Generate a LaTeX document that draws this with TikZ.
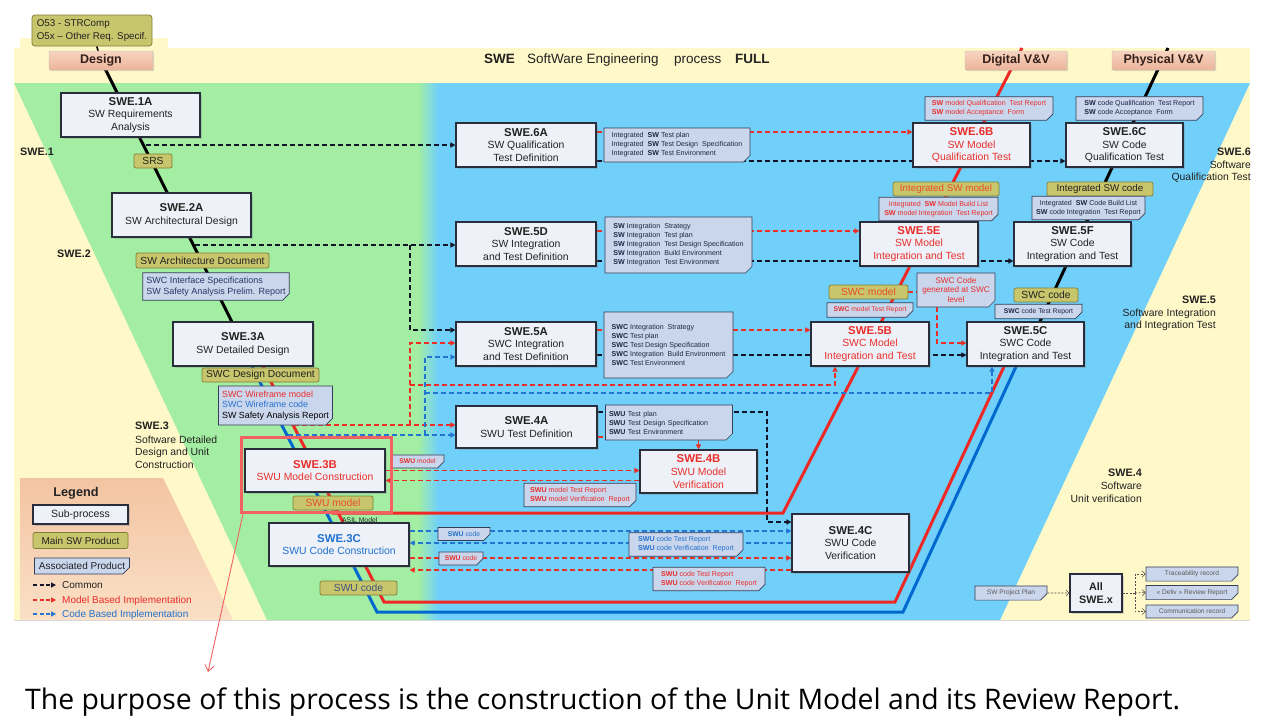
\documentclass[tikz,border=0pt]{standalone}
\usepackage{fontspec}
\setmainfont{Liberation Sans}
\newfontfamily\capfont{Open Sans}
\usepackage{graphicx}
\usetikzlibrary{arrows.meta,shapes.misc,shadows,calc}
\pgfdeclarelayer{regions}
\pgfdeclarelayer{links}
\pgfsetlayers{regions,links,main}
\definecolor{cyell}{RGB}{255,248,200}
\definecolor{cgreen}{RGB}{163,238,163}
\definecolor{cblue}{RGB}{112,208,250}
\definecolor{cpeachA}{RGB}{243,196,162}
\definecolor{cpeachB}{RGB}{250,224,198}
\definecolor{cbox}{RGB}{238,242,248}
\definecolor{cboxedge}{RGB}{40,46,60}
\definecolor{colive}{RGB}{200,198,108}
\definecolor{coliveedge}{RGB}{128,126,52}
\definecolor{cnote}{RGB}{202,214,236}
\definecolor{cnoteedge}{RGB}{52,62,88}
\definecolor{cnotetext}{RGB}{30,38,66}
\definecolor{cred}{RGB}{232,46,42}
\definecolor{corange}{RGB}{232,78,40}
\definecolor{cblu}{RGB}{32,112,205}
\definecolor{cdash}{RGB}{18,22,40}
\definecolor{crdash}{RGB}{236,46,36}
\definecolor{cbdash}{RGB}{36,116,210}
\definecolor{cvred}{RGB}{238,40,36}
\definecolor{cvblue}{RGB}{0,104,206}
\definecolor{chl}{RGB}{242,98,98}
\definecolor{cgateA}{RGB}{247,212,192}
\definecolor{cgateB}{RGB}{236,180,154}
\definecolor{cgatetext}{RGB}{52,30,26}
\definecolor{cslate}{RGB}{62,82,122}
\definecolor{cdark}{RGB}{34,34,34}
\definecolor{cprel}{RGB}{40,55,100}
\newcommand\fsz[2]{\fontsize{#1}{#2}\selectfont}
\newcommand\B[1]{\textbf{#1}}
\newcommand\ttl[1]{{\fontsize{11.4}{12.6}\selectfont\bfseries #1}}
\tikzset{
 proc/.style={draw=cboxedge, line width=1.1pt, fill=cbox, align=center, inner sep=1pt, font=\fsz{10.4}{12.6}, text=cdark, drop shadow={shadow xshift=1.8pt, shadow yshift=-1.8pt, opacity=0.3}},
 prod/.style={draw=coliveedge, line width=0.7pt, fill=colive, rounded corners=2pt, inner sep=0pt, font=\fsz{10.3}{12}, text=cdark},
 doc/.style={chamfered rectangle, chamfered rectangle corners=south east, chamfered rectangle xsep=3pt, draw=cnoteedge, line width=0.7pt, fill=cnote, inner xsep=0.5pt, inner ysep=0.5pt, align=left, font=\fsz{7.1}{9}, text=cnotetext},
 gate/.style={draw=black!25, line width=0.4pt, top color=cgateA, bottom color=cgateB, rounded corners=1pt, inner sep=0pt, font=\bfseries\fsz{12.5}{14}, text=cgatetext, drop shadow={shadow xshift=1.2pt, shadow yshift=-1.2pt, opacity=0.25}},
 lbl/.style={inner sep=0pt, font=\fsz{10.4}{12}, text=cdark},
 kdash/.style={draw=cdash, line width=1.8pt, dash pattern=on 5pt off 3pt},
 rdash/.style={draw=crdash, line width=1.8pt, dash pattern=on 5pt off 3pt},
 bdash/.style={draw=cbdash, line width=1.8pt, dash pattern=on 5pt off 3pt},
 spine/.style={line width=3pt},
 tdash/.style={draw=black!70, line width=0.6pt, dash pattern=on 2pt off 1.5pt},
 barb/.style={-{Straight Barb[length=3pt,width=6pt]}},
}
\begin{document}
\begin{tikzpicture}[x=1pt,y=-1pt,>={Triangle[length=5pt,width=5pt]}]
\useasboundingbox (0,0) rectangle (1268,723);
\begin{pgfonlayer}{regions}
\fill[white] (0,0) rectangle (1268,723);
\fill[cyell] (20,38) rectangle (168,48);
\fill[cyell] (14,48) rectangle (1250,620);
\fill[cgreen] (14,83) -- (431,83) -- (431,620) -- (267,620) -- cycle;
\fill[cblue] (429,83) -- (1250,83) -- (1000,620) -- (429,620) -- cycle;
\shade[left color=cgreen, right color=cblue] (418,83) rectangle (438,620);
\shade[top color=cpeachA, bottom color=cpeachB] (20,478) -- (163,478) -- (233,620) -- (20,620) -- cycle;
\draw[black!15, line width=1pt] (14,620.5) -- (1250,620.5);
\end{pgfonlayer}

% top
\node[prod, minimum width=120, minimum height=31, rounded corners=3pt, align=left, font=\fsz{9.8}{12.5}] (o53) at (92,30.5) {O53 - STRComp\\O5x – Other Req. Specif.};
\node[gate, minimum width=104, minimum height=19] (design) at (101,60.5) {Design};
\node[gate, minimum width=102, minimum height=19] (digital) at (1016,60.5) {Digital V\&V};
\node[gate, minimum width=103, minimum height=19] (physical) at (1163.5,60.5) {Physical V\&V};
\node[lbl, anchor=base west, font=\bfseries\fsz{13.5}{15}] (t1) at (484,63) {SWE};
\node[lbl, anchor=base west, font=\fsz{13.5}{15}] (t2) at (527,63) {SoftWare Engineering};
\node[lbl, anchor=base west, font=\fsz{13.5}{15}] (t3) at (674,63) {process};
\node[lbl, anchor=base west, font=\bfseries\fsz{13.5}{15}] (t4) at (735,63) {FULL};

% processes
\node[proc, minimum width=139, minimum height=44] (s1a) at (130.5,115) {\ttl{SWE.1A}\\SW Requirements\\Analysis};
\node[proc, minimum width=139, minimum height=44] (s2a) at (181.5,215) {\ttl{SWE.2A}\\SW Architectural Design};
\node[proc, minimum width=140, minimum height=44] (s3a) at (243,344) {\ttl{SWE.3A}\\SW Detailed Design};
\node[proc, minimum width=140, minimum height=43, text=cred] (s3b) at (315,470.5) {\ttl{SWE.3B}\\SWU Model Construction};
\node[proc, minimum width=140, minimum height=43, text=cblu] (s3c) at (339,544.5) {\ttl{SWE.3C}\\SWU Code Construction};
\node[proc, minimum width=140, minimum height=44] (s6a) at (526,145) {\ttl{SWE.6A}\\SW Qualification\\Test Definition};
\node[proc, minimum width=140, minimum height=44] (s5d) at (526,244) {\ttl{SWE.5D}\\SW Integration\\and Test Definition};
\node[proc, minimum width=140, minimum height=44] (s5a) at (526,344) {\ttl{SWE.5A}\\SWC Integration\\and Test Definition};
\node[proc, minimum width=141, minimum height=42] (s4a) at (526.5,427) {\ttl{SWE.4A}\\SWU Test Definition};
\node[proc, minimum width=117, minimum height=43, text=cred] (s4b) at (698.5,471.5) {\ttl{SWE.4B}\\SWU Model\\Verification};
\node[proc, minimum width=117, minimum height=58] (s4c) at (850.5,543) {\ttl{SWE.4C}\\SWU Code\\Verification};
\node[proc, minimum width=118, minimum height=44, text=cred] (s5b) at (870,344) {\ttl{SWE.5B}\\SWC Model\\Integration and Test};
\node[proc, minimum width=117, minimum height=44] (s5c) at (1025.5,344) {\ttl{SWE.5C}\\SWC Code\\Integration and Test};
\node[proc, minimum width=118, minimum height=44, text=cred] (s5e) at (919,244) {\ttl{SWE.5E}\\SW Model\\Integration and Test};
\node[proc, minimum width=117, minimum height=44] (s5f) at (1072.5,244) {\ttl{SWE.5F}\\SW Code\\Integration and Test};
\node[proc, minimum width=117, minimum height=44, text=cred] (s6b) at (971.5,145) {\ttl{SWE.6B}\\SW Model\\Qualification Test};
\node[proc, minimum width=117, minimum height=44] (s6c) at (1124.5,145) {\ttl{SWE.6C}\\SW Code\\Qualification Test};
\node[proc, minimum width=52, minimum height=38, font=\bfseries\fsz{10.8}{13}] (all) at (1096,593) {All\\SWE.x};

% products
\node[prod, minimum width=38, minimum height=14] (srs) at (153,161) {SRS};
\node[prod, minimum width=133, minimum height=15] (swad) at (202.5,260.5) {SW Architecture Document};
\node[prod, minimum width=117, minimum height=14] (swcdd) at (260.5,375) {SWC Design Document};
\node[prod, minimum width=80, minimum height=14, text=corange] (swum) at (333,503) {SWU model};
\node[prod, minimum width=77, minimum height=14, text=cslate] (swuc) at (358.5,588) {SWU code};
\node[prod, minimum width=106, minimum height=14, text=corange, font=\fsz{9.8}{12}] (ismodel) at (946,189) {Integrated SW model};
\node[prod, minimum width=106, minimum height=14, font=\fsz{9.8}{12}] (iscode) at (1100,189) {Integrated SW code};
\node[prod, minimum width=79, minimum height=14, text=corange] (swcm) at (868.5,292) {SWC model};
\node[prod, minimum width=64, minimum height=14] (swcc) at (1046,295) {SWC code};

% associated products
\node[doc, minimum width=146, minimum height=34] (n6a) at (677,145) {Integrated\ \ \B{SW} Test plan\\Integrated\ \ \B{SW} Test Design\ \ Specification\\Integrated\ \ \B{SW} Test Environment};
\node[doc, minimum width=128, minimum height=21, text=cred] (n6b) at (989,108.5) {\B{SW} model Qualification\ \ Test Report\\\B{SW} model Acceptance\ \ Form};
\node[doc, minimum width=127, minimum height=21] (n6c) at (1139.5,108.5) {\B{SW} code Qualification\ \ Test Report\\\B{SW} code Acceptance\ \ Form};
\node[doc, minimum width=119, minimum height=22, align=center, text=cred] (n5e) at (938.5,209) {Integrated\ \ \B{SW} Model Build List\\\B{SW} model Integration\ \ Test Report};
\node[doc, minimum width=113, minimum height=20, align=center] (n5f) at (1088.5,208) {Integrated\ \ \B{SW} Code Build List\\\B{SW} code Integration\ \ Test Report};
\node[doc, minimum width=147, minimum height=56] (n5d) at (678.5,245) {\B{SW} Integration\ \ Strategy\\\B{SW} Integration\ \ Test plan\\\B{SW} Integration\ \ Test Design Specification\\\B{SW} Integration\ \ Build Environment\\\B{SW} Integration\ \ Test Environment};
\node[doc, minimum width=129, minimum height=66] (n5a) at (668.5,345) {\B{SWC} Integration\ \ Strategy\\\B{SWC} Test plan\\\B{SWC} Test Design Specification\\\B{SWC} Integration\ \ Build Environment\\\B{SWC} Test Environment};
\node[doc, text width=120, minimum height=35] (n4a) at (669,422.5) {\B{SWU} Test plan\\\B{SWU} Test Design Specification\\\B{SWU} Test Environment};
\node[doc, minimum width=86, minimum height=12, text=cred, font=\fsz{6.8}{8}] (nswcm) at (870,310) {\B{SWC} model Test Report};
\node[doc, minimum width=78, minimum height=34, align=center, text=cred, font=\fsz{8.2}{9.5}] (ngen) at (956,290) {SWC Code\\generated at SWC\\level};
\node[doc, minimum width=87, minimum height=11, font=\fsz{6.8}{8}] (nswcc) at (1038.5,311.5) {\B{SWC} code Test Report};
\node[doc, minimum width=53, minimum height=11, text=cred, font=\fsz{6.8}{8}] (nswum) at (417.5,461.5) {\B{SWU} model};
\node[doc, minimum width=112, minimum height=22, text=cred] (nswumr) at (580,495) {\B{SWU} model Test Report\\\B{SWU} model Verification\ \ Report};
\node[doc, minimum width=52, minimum height=12, text=cblu, font=\fsz{6.8}{8}] (nswucb) at (464,534) {\B{SWU} code};
\node[doc, minimum width=44, minimum height=11, text=cred, font=\fsz{6.8}{8}] (nswucr) at (461,558.5) {\B{SWU} code};
\node[doc, minimum width=114, minimum height=23, text=cblu] (nswuctb) at (686,544.5) {\B{SWU} code Test Report\\\B{SWU} code Verification\ \ Report};
\node[doc, minimum width=112, minimum height=22, text=cred] (nswuctr) at (709,579) {\B{SWU} code Test Report\\\B{SWU} code Verification\ \ Report};
\node[doc, minimum width=146, minimum height=27, text=cprel, font=\fsz{9}{11}] (nprel) at (216,286.5) {SWC Interface Specifications\\SW Safety Analysis Prelim. Report};
\node[doc, minimum width=113, minimum height=39, text=black, font=\fsz{8.9}{10.5}] (nwire) at (275.5,405.5) {\textcolor{cred}{SWC Wireframe model}\\\textcolor{cbdash}{SWC Wireframe code}\\SW Safety Analysis Report};
\node[doc, minimum width=72, minimum height=11, align=center, text=black!65, font=\fsz{6.6}{8}] (nproj) at (1011,593) {SW Project Plan};
\node[doc, minimum width=92, minimum height=10, align=center, text=black!65, font=\fsz{6.6}{8}] (ntrace) at (1192,574) {Traceability record};
\node[doc, minimum width=92, minimum height=11, align=center, text=black!65, font=\fsz{6.6}{8}] (nrev) at (1192,592.5) {« Deliv » Review Report};
\node[doc, minimum width=92, minimum height=11, align=center, text=black!65, font=\fsz{6.6}{8}] (ncomm) at (1192,611.5) {Communication record};

% labels
\node[lbl, anchor=base west, font=\bfseries\fsz{10.8}{12}] (l1) at (20,155) {SWE.1};
\node[lbl, anchor=base west, font=\bfseries\fsz{10.8}{12}] (l2) at (57,257) {SWE.2};
\node[lbl, anchor=base west, font=\bfseries\fsz{10.8}{12}] (l3) at (135,429) {SWE.3};
\node[lbl, anchor=base west] (l3a) at (135,443) {Software Detailed};
\node[lbl, anchor=base west] (l3b) at (135,455.5) {Design and Unit};
\node[lbl, anchor=base west] (l3c) at (135,468) {Construction};
\node[lbl, anchor=base east, font=\bfseries\fsz{10.8}{12}] (l6) at (1251,155) {SWE.6};
\node[lbl, anchor=base east] (l6a) at (1251,168) {Software};
\node[lbl, anchor=base east] (l6b) at (1251,180) {Qualification Test};
\node[lbl, anchor=base east, font=\bfseries\fsz{10.8}{12}] (l5) at (1216,303) {SWE.5};
\node[lbl, anchor=base east] (l5a) at (1216,316) {Software Integration};
\node[lbl, anchor=base east] (l5b) at (1216,328.5) {and Integration Test};
\node[lbl, anchor=base east, font=\bfseries\fsz{10.8}{12}] (l4) at (1142,476) {SWE.4};
\node[lbl, anchor=base east] (l4a) at (1142,489) {Software};
\node[lbl, anchor=base east] (l4b) at (1142,502) {Unit verification};
\node[lbl, anchor=base west, font=\fsz{6.8}{8}] (asil) at (342,522) {ASIL Model};

% legend
\node[lbl, anchor=base, font=\bfseries\fsz{12.7}{14}] (lgt) at (76,496) {Legend};
\node[proc, minimum width=95, minimum height=19, font=\fsz{10.5}{12}] (lgsub) at (80.5,514.5) {Sub-process};
\node[prod, minimum width=95, minimum height=16, font=\fsz{10}{12}] (lgmain) at (80.5,540.5) {Main SW Product};
\node[doc, minimum width=95, minimum height=16, align=center, text=cdark, font=\fsz{10}{12}] (lgassoc) at (82,566) {Associated Product};
\node[lbl, anchor=base west, font=\fsz{10}{12}] (lgc) at (62,588.5) {Common};
\node[lbl, anchor=base west, font=\fsz{10}{12}, text=cred] (lgm) at (62,603) {Model Based Implementation};
\node[lbl, anchor=base west, font=\fsz{10}{12}, text=cblu] (lgb) at (62,617) {Code Based Implementation};
\coordinate (lgk1) at (33,585); \coordinate (lgk2) at (56,585);
\coordinate (lgr1) at (33,600); \coordinate (lgr2) at (56,600);
\coordinate (lgb1) at (33,614); \coordinate (lgb2) at (56,614);

% caption
\node[anchor=base west, inner sep=0pt] (cap) at (25,709) {\resizebox{1155pt}{!}{\capfont The purpose of this process is the construction of the Unit Model and its Review Report.}};

% route points
\coordinate (k1) at (146,145);
\coordinate (k2) at (195,245);
\coordinate (k4) at (767,412);
\coordinate (rA) at (294,425);
\coordinate (rB) at (410,385);
\coordinate (bA) at (288,435);
\coordinate (bB) at (425,393);
\coordinate (bL) at (377,612);
\coordinate (bR) at (903,612);
\coordinate (rL) at (384,602);
\coordinate (rR) at (895,602);
\coordinate (rM) at (783,513);
\coordinate (rTop) at (1022,48);
\coordinate (kTop) at (1168,48);
\coordinate (hub) at (1135,593);
\coordinate (ptrEnd) at (208,672);

\begin{pgfonlayer}{links}
\draw[line width=1.5pt] (o53) -- (design);
\draw[spine] (design.center) -- (s3a.center);
\draw[spine, draw=cvblue] ($(s3a.south)+(9,0)$) -- (bL) -- (bR) -- ($(s5c.south)+(-9.5,0)$);
\draw[spine, draw=cvred] ($(s3a.south)+(20,0)$) -- (rL) -- (rR) -- ($(s5c.south)+(-21.5,0)$);
\draw[spine, draw=cvred] (swum.south) |- (rM) -- (rTop);
\draw[spine] ($(s5c.north)+(14.5,0)$) -- (kTop);

\draw[kdash,->] (k1) -- (k1 -| s6a.west);
\draw[kdash,->] (k2) -- (k2 -| s5d.west);
\draw[kdash,->] (k2 -| rB) |- ($(s5a.west)+(0,-14)$);
\draw[rdash,->] ($(s6a.east)+(0,-13)$) -- ($(s6b.west)+(0,-13)$);
\draw[kdash,->] ($(s6a.east)+(0,16)$) -- ($(s6c.west)+(0,16)$);
\draw[rdash,->] ($(s5d.east)+(0,-13)$) -- ($(s5e.west)+(0,-13)$);
\draw[kdash,->] ($(s5d.east)+(0,17)$) -- ($(s5f.west)+(0,17)$);
\draw[rdash,->] ($(s5a.east)+(0,-14)$) -- ($(s5b.west)+(0,-14)$);
\draw[kdash,->] ($(s5a.east)+(0,11)$) -- ($(s5c.west)+(0,11)$);
\draw[rdash] (swcm.east) -- (swcm.east -| ngen.west);
\draw[rdash,->] ($(ngen.south)+(-19,0)$) |- ($(s5c.west)+(0,-1)$);
\draw[kdash,->] ($(s4a.east)+(0,-15)$) -- (k4) |- ($(s4c.west)+(0,-21)$);
\draw[rdash,->] ($(s4a.east)+(0,10)$) -| (s4b.north);
\draw[rdash,->] (rA) -- (rA -| s4a.west);
\draw[rdash,->] (rA -| rB) |- ($(s5a.west)+(0,-1)$);
\draw[rdash,->] (rB) -| ($(s5b.south)+(-35,0)$);
\draw[bdash,->] (bA) -- (bA -| s4a.west);
\draw[bdash,->] (bA -| bB) |- ($(s5a.west)+(0,13)$);
\draw[bdash,->] (bB) -| ($(s5c.south)+(-33.5,0)$);
\draw[rdash,->] (s3b.east) -- (s3b.east -| s4b.west);
\draw[rdash,->] ($(s4b.west)+(0,9)$) -- ($(s4b.west -| s3b.east)+(0,9)$);
\draw[bdash,->] ($(s3c.east)+(0,-13.5)$) -- ($(s3c.east -| s4c.west)+(0,-13.5)$);
\draw[bdash,->] ($(s3c.east -| s4c.west)+(0,-1.5)$) -- ($(s3c.east)+(0,-1.5)$);
\draw[rdash,->] ($(s3c.east)+(0,13.5)$) -- ($(s3c.east -| s4c.west)+(0,13.5)$);
\draw[rdash,->] ($(s3c.east -| s4c.west)+(0,25.5)$) -- ($(s3c.east)+(0,25.5)$);

\draw[tdash,barb] (nproj) -- (all);
\draw[tdash] (all.east) -- (hub);
\draw[tdash,barb] (hub) |- (ntrace.west);
\draw[tdash,barb] (hub) -- (nrev.west);
\draw[tdash,barb] (hub) |- (ncomm.west);

\draw[kdash, line width=1.5pt, dash pattern=on 4pt off 2.5pt,->] (lgk1) -- (lgk2);
\draw[rdash, line width=1.5pt, dash pattern=on 4pt off 2.5pt,->] (lgr1) -- (lgr2);
\draw[bdash, line width=1.5pt, dash pattern=on 4pt off 2.5pt,->] (lgb1) -- (lgb2);
\end{pgfonlayer}

% highlight
\node[draw=chl, line width=3pt, minimum width=150, minimum height=75, inner sep=0pt] (hl) at (316.5,475) {};
\draw[draw=chl, line width=0.9pt, -{Straight Barb[length=6pt,width=9pt]}] ($(hl.south west)+(3,0)$) -- (ptrEnd);
\end{tikzpicture}
\end{document}
